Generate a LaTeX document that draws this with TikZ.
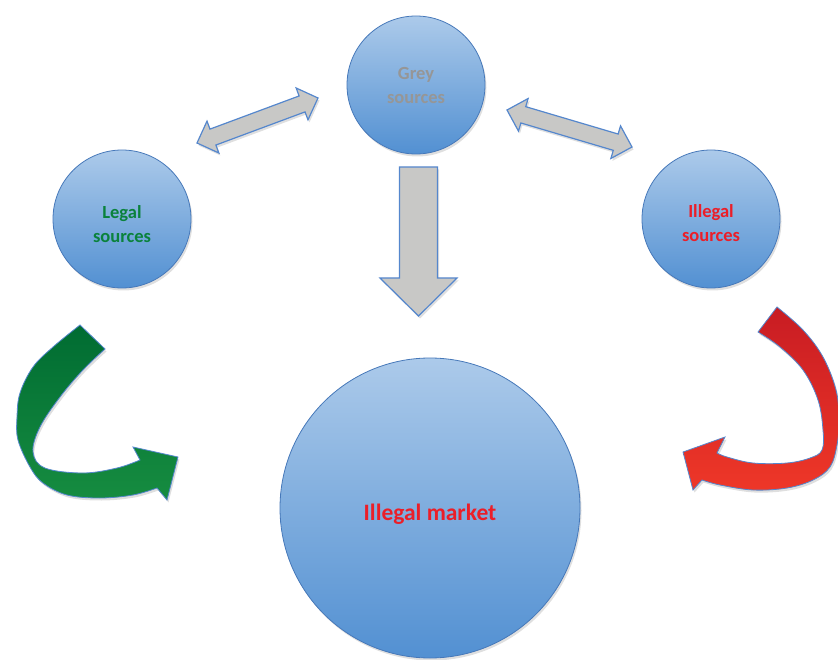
\documentclass[tikz,border=0pt]{standalone}
\usepackage{fontspec}
\setmainfont{Carlito}
\usetikzlibrary{shadows,calc}
\definecolor{circTop}{RGB}{172,202,234}
\definecolor{circBot}{RGB}{82,144,210}
\definecolor{circLine}{RGB}{70,120,185}
\definecolor{arrFill}{RGB}{200,200,198}
\definecolor{arrLine}{RGB}{85,135,205}
\definecolor{txtGreen}{RGB}{10,130,60}
\definecolor{txtRed}{RGB}{235,30,40}
\definecolor{txtGrey}{RGB}{150,150,150}
\definecolor{grTop}{RGB}{0,108,50}
\definecolor{grBot}{RGB}{22,140,64}
\definecolor{rdTop}{RGB}{200,28,35}
\definecolor{rdBot}{RGB}{238,55,40}
\newcommand\mydblarrow[2]{%
 \draw[blockarrow] (#1)
 -- ($(#1)!17pt!(#2)!17pt!90:(#2)$)
 -- ($(#1)!17pt!(#2)!8.5pt!90:(#2)$)
 -- ($(#2)!17pt!(#1)!8.5pt!-90:(#1)$)
 -- ($(#2)!17pt!(#1)!17pt!-90:(#1)$)
 -- (#2)
 -- ($(#2)!17pt!(#1)!17pt!90:(#1)$)
 -- ($(#2)!17pt!(#1)!8.5pt!90:(#1)$)
 -- ($(#1)!17pt!(#2)!8.5pt!-90:(#2)$)
 -- ($(#1)!17pt!(#2)!17pt!-90:(#2)$)
 -- cycle;}
\begin{document}
\begin{tikzpicture}[x=1pt,y=-1pt,
 softshadow/.style={drop shadow={opacity=0.25, shadow xshift=1.5pt, shadow yshift=-2.5pt}},
 source/.style={circle, draw=circLine, line width=0.8pt, top color=circTop, bottom color=circBot,
   inner sep=0pt, minimum size=138pt, softshadow},
 srctext/.style={align=center, inner sep=0pt, font=\bfseries\fontsize{18.5}{24}\selectfont},
 blockarrow/.style={fill=arrFill, draw=arrLine, line width=1.2pt, line join=miter, softshadow},
 curvearrow/.style={draw=arrLine, line width=0.8pt, line join=miter, softshadow}]
\useasboundingbox (0,0) rectangle (838,660);

% circles
\node[source, label={[srctext, text=txtGrey, yshift=-0.5pt]center:Grey\\sources}] (grey) at (416,85) {};
\node[source, label={[srctext, text=txtGreen, yshift=-5pt]center:Legal\\sources}] (legal) at (122,219) {};
\node[source, label={[srctext, text=txtRed, yshift=-4.5pt]center:Illegal\\sources}] (illegal) at (711,219) {};
\node[source, minimum size=300pt, label={[srctext, text=txtRed, yshift=-6pt, font=\bfseries\fontsize{23.5}{28}\selectfont]center:Illegal market}] (market) at (430,508) {};

% double arrows
\coordinate (la1) at (197,143);
\coordinate (la2) at (318,98);
\coordinate (ra1) at (507,110);
\coordinate (ra2) at (632,147);
\mydblarrow{la1}{la2}
\mydblarrow{ra1}{ra2}

% down arrow
\coordinate (da1) at (418.5,167);
\coordinate (da2) at (418.5,316);
\draw[blockarrow] ($(da1)!19pt!90:(da2)$)
 -- ($(da2)!38pt!(da1)!19pt!-90:(da1)$)
 -- ($(da2)!38pt!(da1)!38.5pt!-90:(da1)$)
 -- (da2)
 -- ($(da2)!38pt!(da1)!38.5pt!90:(da1)$)
 -- ($(da2)!38pt!(da1)!19pt!90:(da1)$)
 -- ($(da1)!19pt!-90:(da2)$)
 -- cycle;

% green curved arrow
\path[curvearrow, top color=grTop, bottom color=grBot]
 (80,325) -- (105,349)
 -- plot[smooth, tension=0.6] coordinates {(105,349) (83,370) (60,397) (40,427) (33,452) (45,468) (83,473) (117,468) (140,460)}
 -- (133,447) -- (178,457) -- (167,500)
 -- plot[smooth, tension=0.6] coordinates {(157,488) (133,495) (100,498) (67,495) (43,483) (30,467) (18,440) (17,417) (20,393) (33,367) (53,347) (80,325)}
 -- cycle;

% red curved arrow
\path[curvearrow, top color=rdTop, bottom color=rdBot]
 (777,307) -- (758,332)
 -- plot[smooth, tension=0.6] coordinates {(758,332) (780,347) (803,370) (818,400) (823,430) (822,450) (810,458) (787,463) (753,463) (727,457) (717,453)}
 -- (725,437) -- (683,452) -- (693,490)
 -- plot[smooth, tension=0.6] coordinates {(702,480) (720,485) (753,490) (787,488) (813,480) (830,467) (837,445) (839,420) (836,390) (823,357) (803,330) (777,307)}
 -- cycle;
\end{tikzpicture}
\end{document}
